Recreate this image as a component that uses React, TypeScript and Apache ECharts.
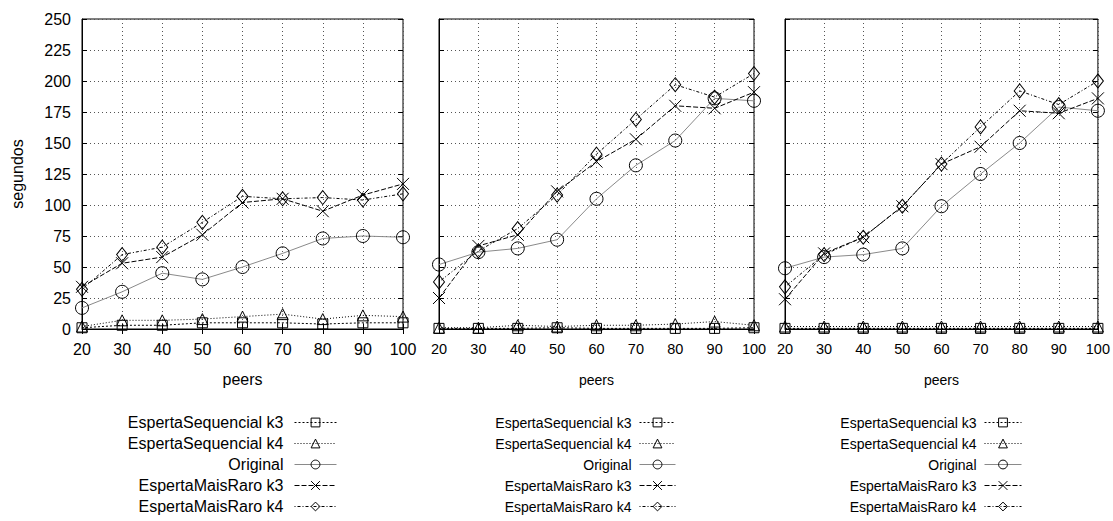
import React, { useEffect, useRef } from "react";
import * as echarts from "echarts";

const peers = [20, 30, 40, 50, 60, 70, 80, 90, 100];
const seriesNames = [
  "EspertaSequencial k3",
  "EspertaSequencial k4",
  "Original",
  "EspertaMaisRaro k3",
  "EspertaMaisRaro k4",
];
const yTicks = [0, 25, 50, 75, 100, 125, 150, 175, 200, 225, 250];

// Panel 1
const p1SeqK3 = [1, 3, 3, 5, 5, 5, 4, 5, 5];
const p1SeqK4 = [2, 7, 7, 8, 10, 12, 8, 11, 10];
const p1Original = [17, 30, 45, 40, 50, 61, 73, 75, 74];
const p1RaroK3 = [34, 53, 58, 76, 102, 105, 95, 108, 117];
const p1RaroK4 = [32, 60, 66, 86, 107, 105, 106, 104, 109];

// Panel 2
const p2SeqK3 = [0.5, 0.5, 0.5, 1, 0.5, 0.5, 0.5, 0.5, 1];
const p2SeqK4 = [1, 1, 3, 2, 3, 3, 4, 6, 3];
const p2Original = [52, 62, 65, 72, 105, 132, 152, 186, 184];
const p2RaroK3 = [25, 67, 76, 111, 135, 153, 180, 178, 191];
const p2RaroK4 = [38, 63, 81, 108, 141, 169, 197, 187, 206];

// Panel 3
const p3SeqK3 = [0.5, 0.5, 0.5, 0.5, 0.5, 0.5, 0.5, 0.5, 0.5];
const p3SeqK4 = [2, 2, 2, 2, 2, 2, 2, 2, 2];
const p3Original = [49, 58, 60, 65, 99, 125, 150, 179, 176];
const p3RaroK3 = [24, 61, 74, 99, 133, 147, 176, 174, 186];
const p3RaroK4 = [34, 60, 74, 99, 133, 163, 192, 181, 200];

const panels = [
  [p1SeqK3, p1SeqK4, p1Original, p1RaroK3, p1RaroK4],
  [p2SeqK3, p2SeqK4, p2Original, p2RaroK3, p2RaroK4],
  [p3SeqK3, p3SeqK4, p3Original, p3RaroK3, p3RaroK4],
];

const FONT = "Liberation Sans";

export default function App() {
  const ref = useRef<HTMLDivElement>(null);
  useEffect(() => {
    document.body.style.margin = "0";
    if (!ref.current) return;
    const chart = echarts.init(ref.current, undefined, { renderer: "svg" });

    const panelLayout = [
      { left: 82, width: 321, tickFont: 16, nameFont: 16, nameGap: 42, legendRight: 776, iconW: 42, textPad: 6 },
      { left: 439, width: 315, tickFont: 14.5, nameFont: 14, nameGap: 44, legendRight: 437, iconW: 36, textPad: 3 },
      { left: 785, width: 314, tickFont: 14.5, nameFont: 14, nameGap: 44, legendRight: 91, iconW: 37, textPad: 3 },
    ];

    const styles = [
      { symbol: "rect", size: 10, lineType: [2, 2], lineColor: "#000" },
      { symbol: "triangle", size: 11, lineType: [1, 2], lineColor: "#000" },
      { symbol: "circle", size: 13, lineType: "solid", lineColor: "#8a8a8a" },
      { symbol: "path://M0 0L10 10M10 0L0 10", size: 12, lineType: [5, 2], lineColor: "#000" },
      { symbol: "diamond", size: [11, 14], lineType: [1, 2, 3, 2], lineColor: "#000" },
    ];

    const grids: any[] = [];
    const xAxes: any[] = [];
    const yAxes: any[] = [];
    const series: any[] = [];
    const legends: any[] = [];

    panelLayout.forEach((g, i) => {
      grids.push({
        left: g.left,
        width: g.width,
        top: 19,
        height: 310,
        show: true,
        borderColor: "#000",
        borderWidth: 1,
        containLabel: false,
      });
      xAxes.push({
        type: "value",
        gridIndex: i,
        min: peers[0],
        max: peers[peers.length - 1],
        interval: 10,
        name: "peers",
        nameLocation: "middle",
        nameGap: g.nameGap,
        nameTextStyle: { fontFamily: FONT, fontSize: g.nameFont, color: "#000" },
        axisLine: { show: true, lineStyle: { color: "#000", width: 1 } },
        axisTick: { show: true, inside: true, length: 5, lineStyle: { color: "#000" } },
        axisLabel: { fontFamily: FONT, fontSize: g.tickFont, color: "#000", margin: 12 },
        splitLine: { show: true, lineStyle: { color: "#555", type: [1, 3], width: 1 } },
      });
      xAxes.push({
        type: "value",
        gridIndex: i,
        position: "top",
        min: peers[0],
        max: peers[peers.length - 1],
        interval: 10,
        axisLine: { show: false },
        axisTick: { show: true, inside: true, length: 5, lineStyle: { color: "#000" } },
        axisLabel: { show: false },
        splitLine: { show: false },
      });
      yAxes.push({
        type: "value",
        gridIndex: i,
        min: yTicks[0],
        max: yTicks[yTicks.length - 1],
        interval: 25,
        name: i === 0 ? "segundos" : "",
        nameLocation: "middle",
        nameGap: 57,
        nameTextStyle: { fontFamily: FONT, fontSize: 16, color: "#000" },
        axisLine: { show: true, lineStyle: { color: "#000", width: 1 } },
        axisTick: { show: true, inside: true, length: 5, lineStyle: { color: "#000" } },
        axisLabel: { show: i === 0, fontFamily: FONT, fontSize: 16, color: "#000", margin: 11 },
        splitLine: { show: true, lineStyle: { color: "#555", type: [1, 3], width: 1 } },
      });
      yAxes.push({
        type: "value",
        gridIndex: i,
        position: "right",
        min: yTicks[0],
        max: yTicks[yTicks.length - 1],
        interval: 25,
        axisLine: { show: false },
        axisTick: { show: true, inside: true, length: 5, lineStyle: { color: "#000" } },
        axisLabel: { show: false },
        splitLine: { show: false },
      });

      panels[i].forEach((vals, s) => {
        const st = styles[s];
        series.push({
          type: "line",
          name: seriesNames[s],
          xAxisIndex: i * 2,
          yAxisIndex: i * 2,
          data: peers.map((p, k) => [p, vals[k]]),
          symbol: st.symbol,
          symbolSize: st.size,
          showAllSymbol: true,
          clip: false,
          z: s === 2 ? 2 : 3,
          lineStyle: { color: st.lineColor, width: 1, type: st.lineType },
          itemStyle: { color: "transparent", borderColor: "#000", borderWidth: 1 },
          emphasis: { disabled: true },
        });
      });

      legends.push({
        data: seriesNames,
        orient: "vertical",
        align: "right",
        right: g.legendRight,
        top: 413,
        padding: 0,
        itemWidth: g.iconW,
        itemHeight: 11,
        itemGap: 2,
        selectedMode: false,
        lineStyle: { width: 1 },
        itemStyle: { borderWidth: 1 },
        textStyle: {
          fontFamily: FONT,
          fontSize: g.nameFont,
          lineHeight: 19,
          color: "#000",
          padding: [0, g.textPad, 0, 0],
        },
      });
    });

    chart.setOption({
      animation: false,
      backgroundColor: "#fff",
      textStyle: { fontFamily: FONT },
      grid: grids,
      xAxis: xAxes,
      yAxis: yAxes,
      legend: legends,
      series,
    });
    return () => chart.dispose();
  }, []);
  return <div ref={ref} style={{ width: 1113, height: 521 }} />;
}
